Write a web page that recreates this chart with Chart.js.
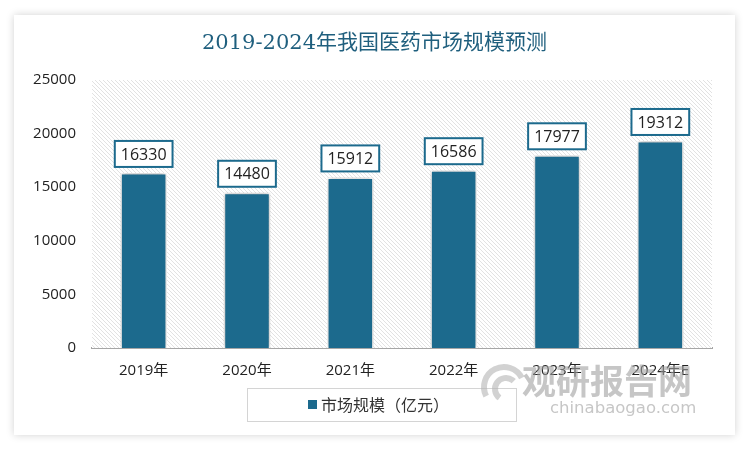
<!DOCTYPE html>
<html>
<head>
<meta charset="utf-8">
<script src="https://cdn.jsdelivr.net/npm/chart.js@4.4.1/dist/chart.umd.min.js"></script>
<style>
  html, body { margin: 0; padding: 0; background: #fff; }
  body { width: 750px; height: 452px; position: relative; overflow: hidden; }
  #card {
    position: absolute; left: 14px; top: 15px; width: 721px; height: 420px;
    background: #fff; box-shadow: 0 0 8px rgba(0,0,0,0.18);
  }
  #chart { display: block; }
</style>
</head>
<body>
<div id="card"><canvas id="chart" width="721" height="420"></canvas></div>
<script>
const years = ["2019年", "2020年", "2021年", "2022年", "2023年", "2024年E"];
const marketSize = [16330, 14480, 15912, 16586, 17977, 19312];
const seriesName = "市场规模（亿元）";
const chartTitle = "2019-2024年我国医药市场规模预测";

const teal = "#1c6a8d";
const cjk = "'Noto Sans CJK SC', 'Noto Sans', sans-serif";

function makeHatch(ctx) {
  const c = document.createElement("canvas");
  c.width = 4; c.height = 4;
  const p = c.getContext("2d");
  p.fillStyle = "#fff";
  p.fillRect(0, 0, 4, 4);
  p.strokeStyle = "#e2e2e2";
  p.lineWidth = 1;
  p.beginPath();
  p.moveTo(-1, -1); p.lineTo(5, 5);
  p.moveTo(-1, 3); p.lineTo(1, 5);
  p.moveTo(3, -1); p.lineTo(5, 1);
  p.stroke();
  return ctx.createPattern(c, "repeat");
}

const decor = {
  id: "decor",
  beforeDatasetsDraw(chart) {
    const { ctx, chartArea: a } = chart;
    ctx.save();
    ctx.fillStyle = makeHatch(ctx);
    ctx.fillRect(a.left, a.top, a.right - a.left, a.bottom - a.top);
    ctx.restore();
    // title
    ctx.save();
    ctx.fillStyle = "#1f5f7e";
    ctx.font = "21px 'DejaVu Serif', " + cjk;
    ctx.textAlign = "center";
    ctx.textBaseline = "middle";
    ctx.fillText(chartTitle, chart.width / 2, 29);
    ctx.restore();
  },
  beforeDatasetDraw(chart) {
    const ctx = chart.ctx;
    ctx.save();
    ctx.shadowColor = "rgba(0,0,0,0.35)";
    ctx.shadowBlur = 5;
  },
  afterDatasetDraw(chart) {
    chart.ctx.restore();
  },
  afterDatasetsDraw(chart) {
    const { ctx } = chart;
    const meta = chart.getDatasetMeta(0);
    ctx.save();
    ctx.font = "16px 'Open Sans', 'Liberation Sans', sans-serif";
    ctx.textAlign = "center";
    ctx.textBaseline = "middle";
    meta.data.forEach((bar, i) => {
      const txt = String(marketSize[i]);
      const w = ctx.measureText(txt).width + 12;
      const h = 26;
      const x = bar.x - w / 2;
      const y = bar.y - 6 - h;
      ctx.fillStyle = "#fff";
      ctx.fillRect(x, y, w, h);
      ctx.strokeStyle = teal;
      ctx.lineWidth = 2;
      ctx.strokeRect(x, y, w, h);
      ctx.fillStyle = "#222";
      ctx.fillText(txt, bar.x, y + h / 2 + 1);
    });
    ctx.restore();

    // legend
    ctx.save();
    const lx = 233, ly = 373, lw = 269, lh = 33;
    ctx.strokeStyle = "#d4d4d4";
    ctx.lineWidth = 1;
    ctx.strokeRect(lx + 0.5, ly + 0.5, lw, lh);
    ctx.fillStyle = teal;
    ctx.fillRect(294, ly + 12, 9, 9);
    ctx.fillStyle = "#333";
    ctx.font = "16px " + cjk;
    ctx.textBaseline = "middle";
    ctx.textAlign = "left";
    ctx.fillText(seriesName, 307, ly + lh / 2);
    ctx.restore();

    // watermark
    ctx.save();
    ctx.globalAlpha = 0.6;
    ctx.strokeStyle = "#b4b4b4";
    ctx.lineWidth = 6;
    ctx.beginPath();
    ctx.arc(490, 372, 20, Math.PI * 0.85, Math.PI * 1.85);
    ctx.stroke();
    ctx.beginPath();
    ctx.arc(492, 374, 11, Math.PI * 0.7, Math.PI * 1.75);
    ctx.stroke();
    ctx.fillStyle = "#a0a0a0";
    ctx.font = "bold 34px " + cjk;
    ctx.textAlign = "left";
    ctx.textBaseline = "middle";
    ctx.fillText("观研报告网", 508, 366);
    ctx.font = "16.5px 'DejaVu Sans', sans-serif";
    ctx.fillText("chinabaogao.com", 536, 394);
    ctx.restore();
  }
};

new Chart(document.getElementById("chart"), {
  type: "bar",
  data: {
    labels: years,
    datasets: [{
      label: seriesName,
      data: marketSize,
      backgroundColor: teal,
      borderColor: "#ffffff",
      borderWidth: 1.5,
      barPercentage: 0.45,
      categoryPercentage: 1.0,
    }],
  },
  options: {
    responsive: false,
    animation: false,
    layout: { padding: { top: 65, right: 23, bottom: 57, left: 0 } },
    plugins: {
      legend: { display: false },
      tooltip: { enabled: false },
      title: { display: false },
    },
    scales: {
      x: {
        grid: { display: false, drawTicks: false },
        border: { display: true, color: "#a6a6a6", width: 2 },
        ticks: {
          color: "#222",
          padding: 14,
          font: { size: 15, family: "'Open Sans', " + cjk },
        },
        afterFit: (s) => { s.height = 30; },
      },
      y: {
        min: 0,
        max: 25000,
        grid: { display: false, drawTicks: false },
        border: { display: false },
        ticks: {
          stepSize: 5000,
          color: "#222",
          padding: 16,
          font: { size: 15, family: "'Open Sans', 'Liberation Sans', sans-serif" },
          callback: (v) => String(v),
        },
        afterFit: (s) => { s.width = 78; },
      },
    },
  },
  plugins: [decor],
});
</script>
</body>
</html>
